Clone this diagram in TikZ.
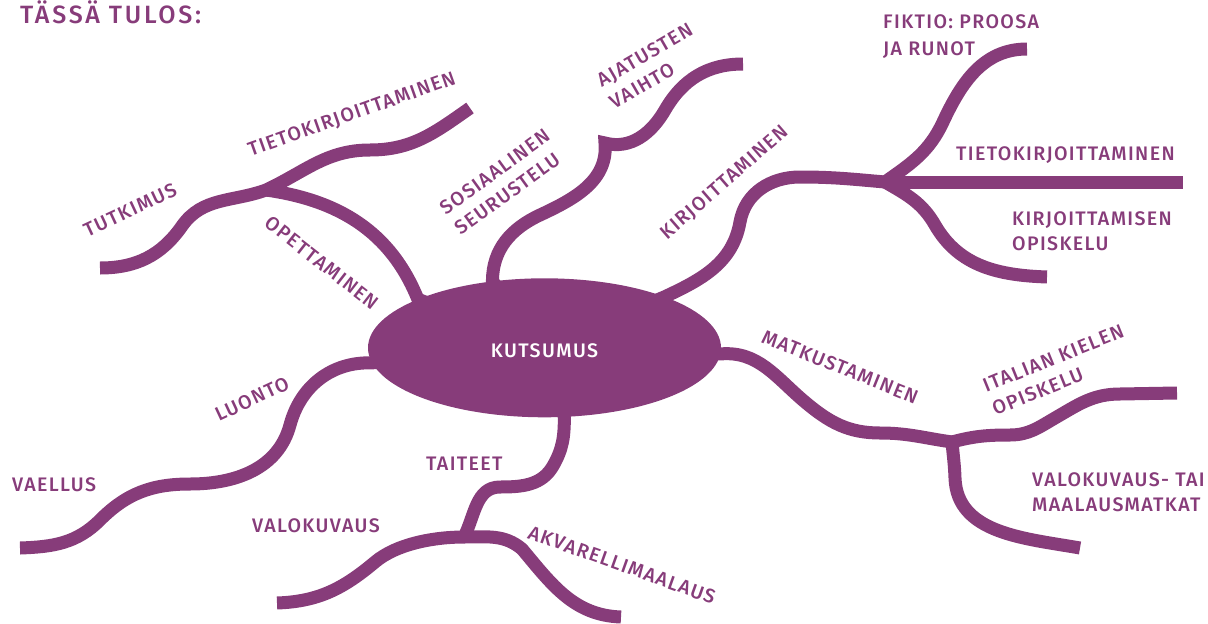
\documentclass[tikz,border=0pt]{standalone}
\usepackage{fontspec}
\setmainfont{Fira Sans}[UprightFont=* Medium,LetterSpace=7]
\usetikzlibrary{shapes.geometric,backgrounds}
\definecolor{plum}{HTML}{873C7A}
\tikzset{branch/.style={draw=plum,line width=13pt,line join=round},lbl/.style={text=plum,font=\fontsize{19.6}{25}\selectfont,inner sep=0pt,align=left},hub/.style={ellipse,fill=plum,text=white,minimum width=353pt,minimum height=139pt,inner sep=0pt,font=\fontsize{19.6}{25}\selectfont,text height=19.3pt,text depth=0pt}}

\begin{document}
\begin{tikzpicture}[x=1pt,y=1pt]
\useasboundingbox (0,0) rectangle (1208,-624);
\node[hub] (kutsumus) at (544.5,-347.8) {KUTSUMUS};
\coordinate (kirjb) at (885,-182);
\coordinate (fiktio) at (1027,-49);
\coordinate (tieto) at (1183,-182);
\coordinate (opisk) at (1047,-277);
\coordinate (sosb) at (605,-143);
\coordinate (ajat) at (743,-64);
\coordinate (opeb) at (266,-190);
\coordinate (tietoa) at (470,-108);
\coordinate (tutk) at (100,-268);
\coordinate (vaell) at (20,-548);
\coordinate (taitb) at (464,-537);
\coordinate (valok) at (277,-603);
\coordinate (akvar) at (621,-617);
\coordinate (matkb) at (952,-442);
\coordinate (ital) at (1177,-393);
\coordinate (maal) at (1080,-548);
\begin{scope}[on background layer]
\draw[branch] (kutsumus.center) -- (kutsumus.23) to[out=25,in=-100] (740,-222) to[out=80,in=180] (800,-177) to[out=0,in=175] (kirjb);
\draw[branch] (kirjb) to[out=35,in=-115] (943,-122) to[out=65,in=180] (fiktio);
\draw[branch] (kirjb) -- (tieto);
\draw[branch] (kirjb) to[out=-30,in=120] (935,-225) to[out=-60,in=178] (opisk);
\draw[branch,line join=miter] (kutsumus.center) -- (kutsumus.128) to[out=90,in=-155] (540,-215) to[out=25,in=-85] (sosb) to[out=-15,in=-120] (665,-110) to[out=60,in=180] (ajat);
\draw[branch] (kutsumus.center) -- (kutsumus.159) to[out=112,in=-8] (opeb);
\draw[branch] (tutk) to[out=0,in=-125] (182,-226) to[out=55,in=200] (opeb) to[out=25,in=180] (370,-150) to[out=0,in=-145] (tietoa);
\draw[branch] (kutsumus.center) -- (kutsumus.185) to[out=178,in=75] (290,-425) to[out=-105,in=0] (190,-484) to[out=180,in=45] (100,-520) to[out=-135,in=2] (vaell);
\draw[branch] (kutsumus.center) -- (kutsumus.286) to[out=-90,in=60] (553,-466) to[out=-120,in=0] (500,-487) to[out=180,in=63] (taitb);
\draw[branch] (taitb) to[out=180,in=40,looseness=.8] (375,-562) to[out=-140,in=2] (valok);
\draw[branch] (taitb) to[out=0,in=140] (522,-549) to[out=-50,in=178] (akvar);
\draw[branch] (kutsumus.center) -- (kutsumus.358) to[out=5,in=140] (805,-402) to[out=-40,in=180] (880,-433) to[out=0,in=172] (matkb);
\draw[branch] (matkb) to[out=15,in=180] (1010,-435) to[out=0,in=-150] (1055,-418) to[out=30,in=180] (1120,-394) -- (ital);
\draw[branch] (matkb) to[out=-85,in=92] (955,-478) to[out=-88,in=170] (maal);
\end{scope}
\node[lbl,anchor=base west,font=\fontsize{25}{30}\selectfont\addfontfeatures{LetterSpace=11}] (title) at (20,-23.3) {TÄSSÄ TULOS:};
\node[lbl,rotate=41] (kirjl) at (725,-183) {KIRJOITTAMINEN};
\node[lbl,anchor=north west] (fiktiol) at (883,-14) {FIKTIO: PROOSA\\[2pt]JA RUNOT};
\node[lbl,anchor=base west] (tietol) at (956,-160.7) {TIETOKIRJOITTAMINEN};
\node[lbl,anchor=north west] (opiskl) at (1012,-211.7) {KIRJOITTAMISEN\\OPISKELU};
\node[lbl,rotate=36] (sosl) at (502,-182) {SOSIAALINEN\\SEURUSTELU};
\node[lbl,rotate=30] (ajatl) at (651,-66) {AJATUSTEN\\VAIHTO};
\node[lbl,rotate=19.5] (tietoal) at (352,-115) {TIETOKIRJOITTAMINEN};
\node[lbl,rotate=25] (tutkl) at (130,-210) {TUTKIMUS};
\node[lbl,rotate=-38] (opel) at (322,-263) {OPETTAMINEN};
\node[lbl,rotate=25] (luontol) at (252,-399) {LUONTO};
\node[lbl,anchor=base west] (vaell) at (12,-491.7) {VAELLUS};
\node[lbl,anchor=base west] (taitl) at (426,-470) {TAITEET};
\node[lbl,anchor=base west] (valokl) at (252,-532) {VALOKUVAUS};
\node[lbl,rotate=-19.7] (akvarl) at (622,-565) {AKVARELLIMAALAUS};
\node[lbl,rotate=-22] (matkl) at (840,-367) {MATKUSTAMINEN};
\node[lbl,rotate=22] (itall) at (1058,-370) {ITALIAN KIELEN\\OPISKELU};
\node[lbl,anchor=north west] (maall) at (1032,-472.7) {VALOKUVAUS- TAI\\MAALAUSMATKAT};
\end{tikzpicture}
\end{document}
